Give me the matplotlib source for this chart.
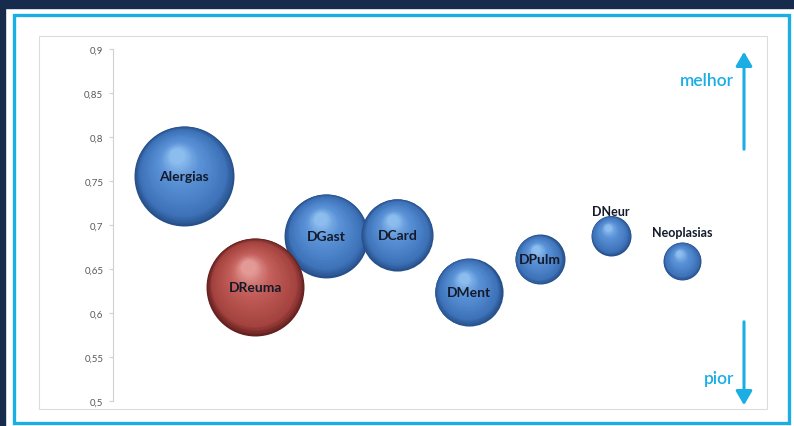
import matplotlib.pyplot as plt
import matplotlib.transforms as mtrans
from matplotlib.patches import Rectangle, FancyArrowPatch
import numpy as np

# dados
doencas = ["Alergias", "DGast", "DReuma", "DCard", "DMent", "DPulm", "DNeur", "Neoplasias"]
x_pos = [1, 3, 2, 4, 5, 6, 7, 8]
valores = [0.756, 0.688, 0.630, 0.689, 0.624, 0.661, 0.688, 0.659]
tamanho = [2500, 1760, 2400, 1300, 1160, 625, 400, 360]
destaque = ["DReuma"]
yticks = [0.5, 0.55, 0.6, 0.65, 0.7, 0.75, 0.8, 0.85, 0.9]

W, H = 794, 427
fig = plt.figure(figsize=(W / 100, H / 100), dpi=100)
fig.patch.set_facecolor("white")

def fx(px):
    return px / W

def fy(py):
    return 1 - py / H

# fundo escuro e moldura
fig.add_artist(Rectangle((0, fy(9)), 1, 1, transform=fig.transFigure, color="#172b4d", zorder=0))
fig.add_artist(Rectangle((0, 0), fx(5), 1, transform=fig.transFigure, color="#172b4d", zorder=0))
fig.add_artist(Rectangle((fx(14), fy(424)), fx(789) - fx(14), fy(16) - fy(424),
                         transform=fig.transFigure, fill=False, edgecolor="#1aaee5", lw=2.4, zorder=1))
fig.add_artist(Rectangle((fx(39), fy(410)), fx(767) - fx(39), fy(37) - fy(410),
                         transform=fig.transFigure, fill=False, edgecolor="#dcdcdc", lw=0.8, zorder=1))

ax = fig.add_axes([fx(113), fy(402), fx(753) - fx(113), fy(50) - fy(402)])
ax.set_facecolor("none")
ax.set_xlim(0, 9)
ax.set_ylim(0.5, 0.9)
ax.set_yticks(yticks)
ax.set_yticklabels([("%g" % v).replace(".", ",") for v in yticks],
                   fontsize=7, color="#595959", family="Lato")
ax.set_xticks([])
for s in ["top", "right", "bottom"]:
    ax.spines[s].set_visible(False)
ax.spines["left"].set_color("#d0d0d0")
ax.spines["left"].set_linewidth(0.8)
ax.tick_params(axis="y", length=3, color="#d0d0d0", pad=4)

def mix(c1, c2, t):
    c1 = np.array(c1); c2 = np.array(c2)
    return tuple(c1 + (c2 - c1) * t)

def hexrgb(h):
    h = h.lstrip("#")
    return tuple(int(h[i:i + 2], 16) / 255 for i in (0, 2, 4))

azul = [hexrgb("#27508a"), hexrgb("#3d72b8"), hexrgb("#5890d6"), hexrgb("#8dbdee")]
verm = [hexrgb("#642120"), hexrgb("#a3423e"), hexrgb("#c25d59"), hexrgb("#e39a96")]

rmax = 50.0
smax = max(tamanho)
N = 40
for nome, xv, yv, sz in zip(doencas, x_pos, valores, tamanho):
    R = rmax * np.sqrt(sz / smax)
    pal = verm if nome in destaque else azul
    for k in range(N):
        t = k / (N - 1)
        r = R * (1 - 0.85 * t)
        if t < 0.15:
            c = mix(pal[0], pal[1], t / 0.15)
        elif t < 0.65:
            c = mix(pal[1], pal[2], (t - 0.15) / 0.5)
        else:
            c = mix(pal[2], pal[3], ((t - 0.65) / 0.35) ** 1.3)
        dx = -0.14 * R * t / 100
        dy = 0.4 * R * t / 100
        tr = ax.transData + mtrans.ScaledTranslation(dx, dy, fig.dpi_scale_trans)
        ax.scatter([xv], [yv], s=(2 * r * 0.72) ** 2, color=c, lw=0, transform=tr, zorder=2)

# rotulos
acima = {"DNeur": 25, "Neoplasias": 29}
for nome, xv, yv in zip(doencas, x_pos, valores):
    off = acima.get(nome, 0) * 0.72
    ax.annotate(nome, (xv, yv), xytext=(0, off), textcoords="offset points",
                ha="center", va="center", fontsize=9 if nome in acima else 10,
                fontweight="bold", color="#141a2a", family="Lato", zorder=5)

# setas melhor / pior
fig.add_artist(FancyArrowPatch((fx(744), fy(153)), (fx(744), fy(50)), transform=fig.transFigure,
                               arrowstyle="-|>,head_length=0.6,head_width=0.35", mutation_scale=14,
                               color="#1aaee5", lw=2.2))
fig.add_artist(FancyArrowPatch((fx(744), fy(320)), (fx(744), fy(409)), transform=fig.transFigure,
                               arrowstyle="-|>,head_length=0.6,head_width=0.35", mutation_scale=14,
                               color="#1aaee5", lw=2.2))
fig.text(fx(734), fy(81), "melhor", ha="right", va="center", fontsize=12.5,
         color="#1aaee5", family="Lato", fontweight="semibold")
fig.text(fx(734), fy(379), "pior", ha="right", va="center", fontsize=12.5,
         color="#1aaee5", family="Lato", fontweight="semibold")

fig.savefig("out.png", dpi=100)
